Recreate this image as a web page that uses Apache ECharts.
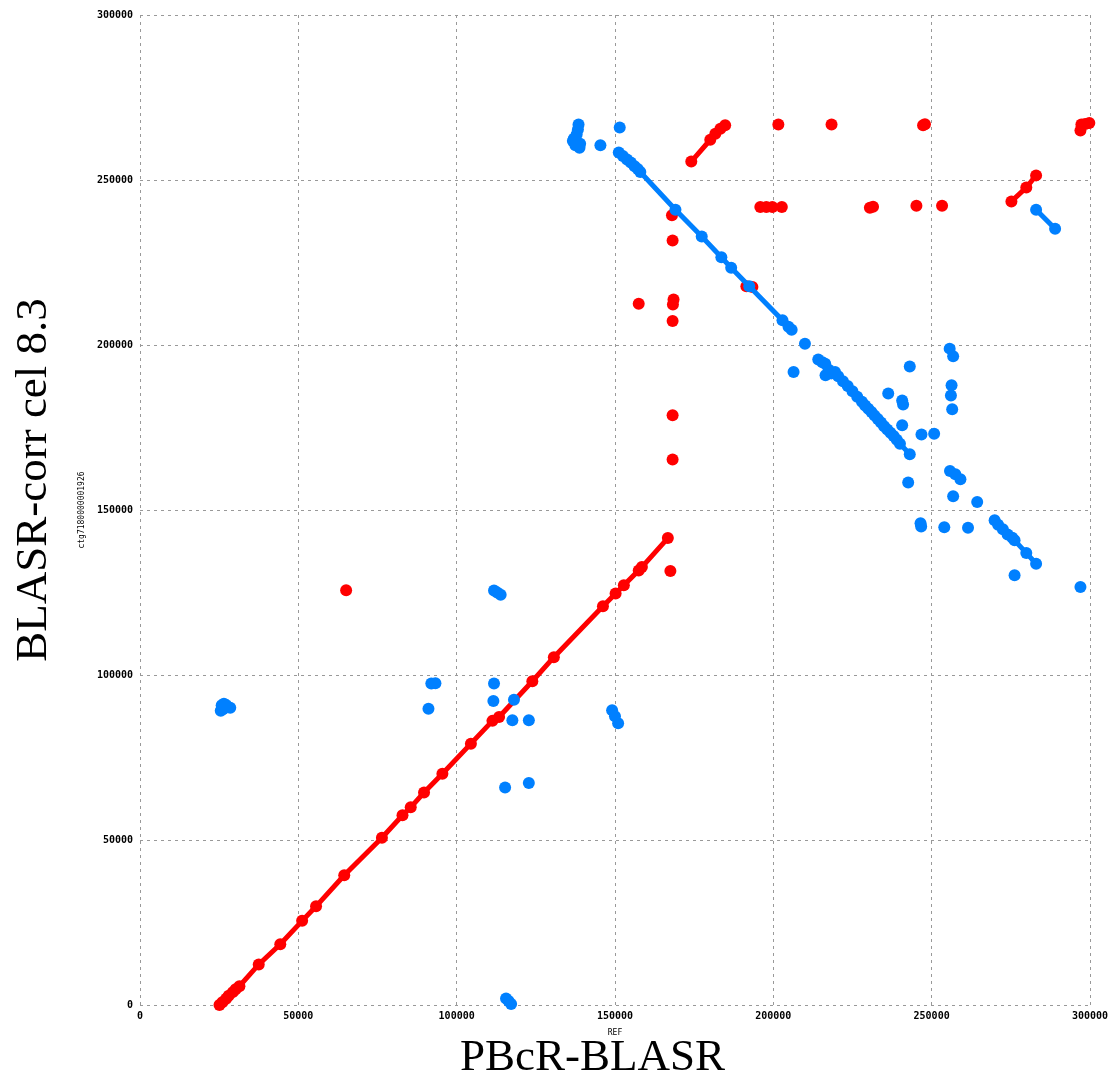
<!DOCTYPE html>
<html><head><meta charset="utf-8">
<script src="https://cdn.jsdelivr.net/npm/echarts@6/dist/echarts.min.js"></script>
<style>html,body{margin:0;padding:0;background:#fff}#c{width:1111px;height:1083px}</style>
</head><body><div id="c"></div>
<script>
const xTicks = [0, 50000, 100000, 150000, 200000, 250000, 300000];
const yTicks = [0, 50000, 100000, 150000, 200000, 250000, 300000];
const xAxisName = 'REF';
const yAxisName = 'ctg7180000001926';
const xTitle = 'PBcR-BLASR';
const yTitle = 'BLASR-corr cel 8.3';

// forward alignments (red): polylines and isolated matches
const redLines = [
  [[25100,0],[26000,800],[27200,1900],[28000,2800],[29300,3900],[30200,4800],[31400,5700],[37500,12300],[44300,18400],[51200,25500],[55600,29900],[64500,39300],[76400,50700],[82900,57500],[85500,59900],[89700,64400],[95500,70100],[104500,79200],[111300,86100],[113400,87300],[123900,98100],[130700,105400],[146200,120800],[150200,124700],[152800,127200],[157500,131700],[158500,132700],[166700,141500]],
  [[174100,255600],[180100,262200],[181700,264000],[183300,265500],[184800,266600]],
  [[275200,243500],[279900,247700],[283000,251400]],
  [[297000,265000],[297300,266800],[298500,267000],[299800,267300]]
];
const redDots = [
  [65100,125700],[167500,131500],[157500,212500],[168000,239300],[168200,231700],[168500,213800],[168300,212300],
  [168200,207300],[168200,178700],[168200,165300],[191500,217800],[193400,217600],[201600,266800],[218400,266800],
  [247300,266600],[247900,266900],[195900,241800],[197800,241800],[199700,241800],[202700,241800],[230500,241600],
  [231500,241900],[245200,242200],[253300,242200]
];
// reverse alignments (blue)
const blueLines = [
  [[151200,258300],[152500,257300],[153800,256200],[155000,255300],[156200,254200],[157200,253300],[158000,252400],[169100,241000],[177400,232900],[183600,226600],[186700,223400],[192400,217800],[202900,207500],[204800,205500],[205800,204600]],
  [[214200,195600],[215500,194800],[216400,194300],[217500,192500],[218300,191400],[219500,191800],[220500,190500],[222000,189000],[223500,187600],[225000,186000],[226500,184300],[228000,182800],[229000,181700],[230000,180700],[231000,179700],[232000,178600],[233000,177600],[234000,176500],[235000,175400],[236000,174400],[237000,173400],[238000,172400],[239000,171300],[240000,170100],[243100,166900]],
  [[255700,198900],[256800,196600]],
  [[256300,187800],[256100,184700]],
  [[255800,161800],[257500,160800],[259100,159300]],
  [[269900,146900],[271000,145500],[272500,144200],[274000,142600],[275500,141600],[276200,140800],[279900,137000],[283000,133700]],
  [[283000,241000],[289000,235200]],
  [[111800,125600],[112800,125000],[113900,124300]],
  [[149100,89300],[150000,87500],[151000,85400]],
  [[115600,2000],[116400,1200],[117200,300]]
];
const blueDots = [
  [138500,266800],[138300,265300],[137900,263800],[137000,262500],[136700,261800],[137500,260500],[138800,259800],[139000,261000],
  [145400,260500],[151500,265900],[210000,200400],[206400,191800],[216500,190800],
  [242600,158300],[243100,193500],[236300,185300],[240700,183200],[241000,182000],[240700,175700],[246800,172900],[250800,173100],
  [256500,180500],[256800,154200],[264400,152400],[246500,146000],[246700,145000],[254000,144800],[261500,144600],
  [276200,130200],[297000,126700],
  [25500,89200],[25800,90800],[26500,91300],[27200,90900],[28500,90100],[26200,89600],
  [92000,97400],[93300,97500],[91100,89800],[111800,97400],[111600,92100],[118100,92500],[117600,86300],[122800,86300],
  [115300,65900],[122800,67300]
];

const RED = '#ff0000', BLUE = '#0080ff';
const chart = echarts.init(document.getElementById('c'), null, {renderer:'canvas'});
const gridLine = {show:true, lineStyle:{color:'#999999', type:[3,4], width:1}};
const tickFont = {fontFamily:'DejaVu Sans Mono', fontSize:10, fontWeight:'bold', color:'#000'};
chart.setOption({
  animation:false,
  backgroundColor:'#fff',
  grid:{left:140, right:18, top:15, bottom:78, containLabel:false},
  xAxis:{type:'value', min:xTicks[0], max:xTicks[xTicks.length-1], interval:xTicks[1]-xTicks[0],
    name:xAxisName, nameLocation:'middle', nameGap:24,
    nameTextStyle:{fontFamily:'DejaVu Sans Mono', fontSize:8, color:'#000'},
    axisLine:{show:false}, axisTick:{show:false}, splitLine:gridLine,
    axisLabel:Object.assign({margin:6, formatter:v=>String(v)}, tickFont)},
  yAxis:{type:'value', min:yTicks[0], max:yTicks[yTicks.length-1], interval:yTicks[1]-yTicks[0],
    name:yAxisName, nameLocation:'middle', nameGap:47,
    nameTextStyle:{fontFamily:'DejaVu Sans Mono', fontSize:8, color:'#000'},
    axisLine:{show:false}, axisTick:{show:false}, splitLine:gridLine,
    axisLabel:Object.assign({margin:7, formatter:v=>String(v)}, tickFont)},
  graphic:[
    {type:'text', left:460, top:1036, style:{text:xTitle, font:'45px "Liberation Serif"', fill:'#000'}},
    {type:'text', x:12, y:480, rotation:Math.PI/2, style:{text:yTitle, font:'45px "Liberation Serif"', fill:'#000', textAlign:'center', textVerticalAlign:'top'}}
  ],
  series:[
    {type:'lines', coordinateSystem:'cartesian2d', polyline:true, silent:true, z:2,
      data:redLines.map(c=>({coords:c})), lineStyle:{color:RED, width:5, opacity:1, curveness:0}},
    {type:'scatter', z:3, silent:true, symbolSize:12, itemStyle:{color:RED, opacity:1},
      data:redLines.flat().concat(redDots)},
    {type:'lines', coordinateSystem:'cartesian2d', polyline:true, silent:true, z:4,
      data:blueLines.map(c=>({coords:c})), lineStyle:{color:BLUE, width:5, opacity:1, curveness:0}},
    {type:'scatter', z:5, silent:true, symbolSize:12, itemStyle:{color:BLUE, opacity:1},
      data:blueLines.flat().concat(blueDots)}
  ]
});
</script></body></html>
